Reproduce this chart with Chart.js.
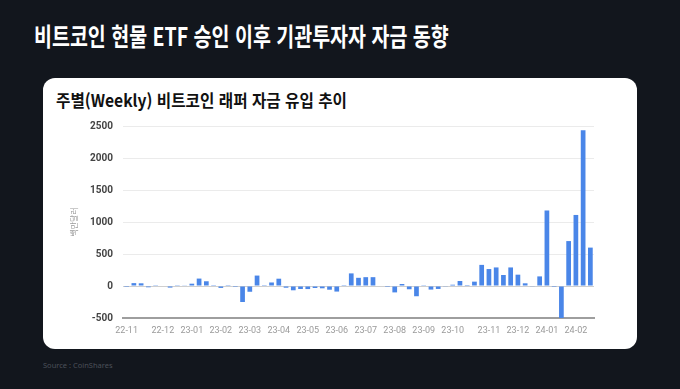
<!DOCTYPE html>
<html lang="ko">
<head>
<meta charset="utf-8">
<script src="https://cdn.jsdelivr.net/npm/chart.js@4.4.1/dist/chart.umd.min.js"></script>
<style>
  html, body { margin: 0; padding: 0; }
  body {
    width: 680px; height: 389px; background: #12161d;
    position: relative; overflow: hidden;
    font-family: "Noto Sans CJK KR", "Noto Sans", sans-serif;
  }
  .title {
    position: absolute; left: 34px; top: 23px; margin: 0;
    color: #fff; font-size: 25px; font-weight: 700; line-height: 1;
    white-space: nowrap; transform: scaleX(0.78); transform-origin: left top;
  }
  .card {
    position: absolute; left: 43px; top: 78px; width: 594px; height: 271px;
    background: #fff; border-radius: 12px;
  }
  .subtitle {
    position: absolute; left: 56px; top: 91px; margin: 0;
    color: #111; font-size: 17px; font-weight: 700; line-height: 1;
    white-space: nowrap; transform: scaleX(0.92); transform-origin: left top;
  }
  .source {
    position: absolute; left: 43px; top: 360px;
    color: #4b5059; font-size: 7.5px; font-family: "Noto Sans", sans-serif;
  }
  #chart { position: absolute; left: 0; top: 0; }
</style>
</head>
<body>
<h1 class="title">비트코인 현물 ETF 승인 이후 기관투자자 자금 동향</h1>
<div class="card"></div>
<h2 class="subtitle">주별(Weekly) 비트코인 래퍼 자금 유입 추이</h2>
<div class="source">Source : CoinShares</div>
<canvas id="chart" width="680" height="389"></canvas>

<script>
// 월 눈금 라벨과 해당 월이 시작되는 주 번호
const monthTicks = ["22-11", "22-12", "23-01", "23-02", "23-03", "23-04", "23-05", "23-06",
                    "23-07", "23-08", "23-09", "23-10", "23-11", "23-12", "24-01", "24-02"];
const monthStartWeek = [0, 5, 9, 13, 17, 21, 25, 29, 33, 37, 41, 45, 50, 54, 58, 62];

// 주별 자금 유입 (백만달러)
const weeklyFlows = [
  -15, 45, 42, -20, 3, 8, -25, 3, 5, 36,
  116, 74, 2, -30, 2, -15, -250, -90, 163, 2,
  55, 114, -27, -67, -47, -48, -31, -36, -58, -87,
  2, 197, 128, 138, 138, 0, -15, -100, 31, -51,
  -160, 3, -56, -46, -5, 20, 78, 15, 68, 330,
  265, 290, 172, 290, 177, 42, -10, 150, 1180, -15,
  -500, 702, 1110, 2435, 600
];

const yTicks = [-500, 0, 500, 1000, 1500, 2000, 2500];

const weekLabels = weeklyFlows.map((_, i) => {
  const m = monthStartWeek.indexOf(i);
  return m >= 0 ? monthTicks[m] : "";
});

new Chart(document.getElementById("chart"), {
  type: "bar",
  data: {
    labels: weekLabels,
    datasets: [{
      label: "자금 유입",
      data: weeklyFlows,
      backgroundColor: "#4a86e8",
      categoryPercentage: 1,
      barPercentage: 0.65
    }]
  },
  options: {
    responsive: false,
    animation: false,
    layout: { padding: { left: 43, right: 86, top: 126, bottom: 50 } },
    plugins: { legend: { display: false }, tooltip: { enabled: false } },
    scales: {
      x: {
        grid: { display: false, drawTicks: false },
        border: { color: "#9e9e9e", width: 2 },
        afterFit: s => { s.height = 21; },
        ticks: {
          autoSkip: false, maxRotation: 0, padding: 7,
          color: "#9a9a9a", font: { family: "Roboto", size: 9 }
        }
      },
      y: {
        min: -500, max: 2500,
        afterBuildTicks: s => { s.ticks = yTicks.map(v => ({ value: v })); },
        afterFit: s => { s.width = 80; },
        grid: {
          drawTicks: false,
          color: c => c.tick.value === 0 ? "#cfcfcf" : "#ebebeb"
        },
        border: { display: false },
        ticks: {
          padding: 10, color: "#444",
          callback: v => String(v),
          font: { family: "Roboto", size: 10, weight: "bold" }
        },
        title: {
          display: true, text: "백만달러", color: "#9a9a9a",
          padding: { top: 26 },
          font: { family: "Noto Sans CJK KR", size: 8 }
        }
      }
    }
  }
});
</script>
</body>
</html>
